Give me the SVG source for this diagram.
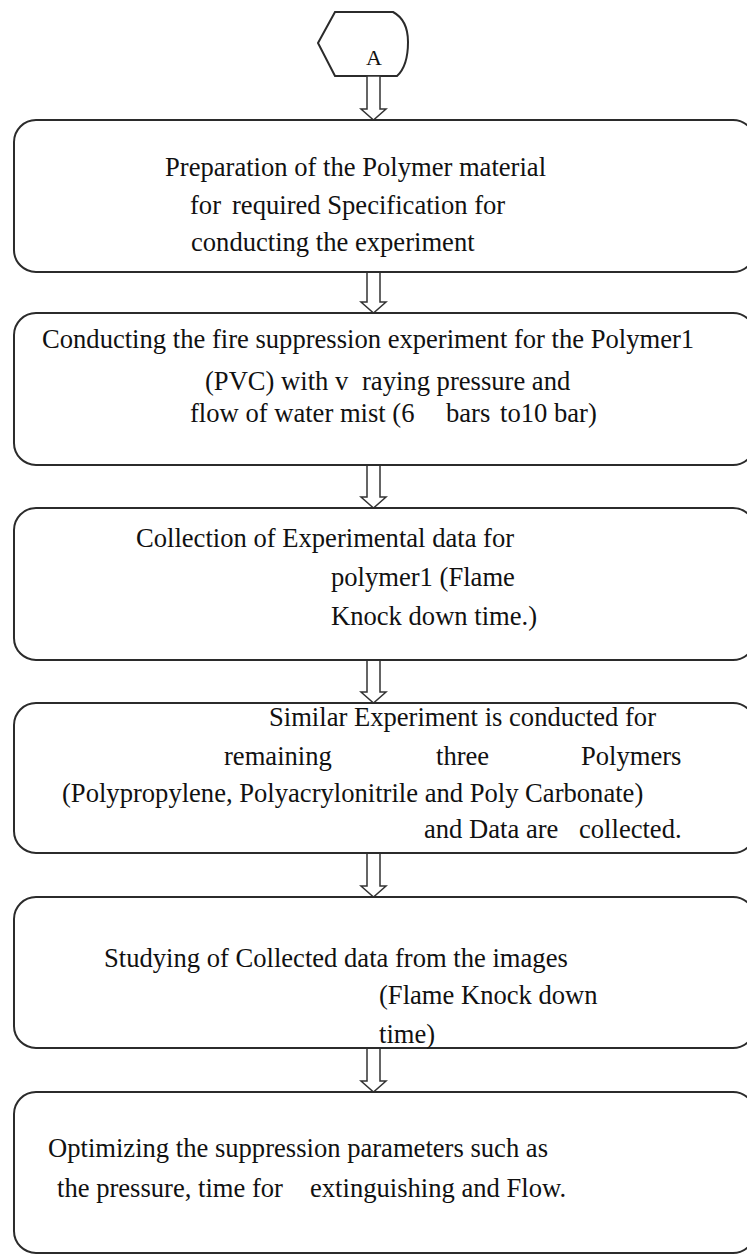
<svg xmlns="http://www.w3.org/2000/svg" width="747" height="1256" viewBox="0 0 747 1256">
<style>
.box{fill:#fff;stroke:#2b2b2b;stroke-width:2}
.arr{fill:#fff;stroke:#333;stroke-width:1.5;stroke-linejoin:miter}
.t{font-family:"Liberation Serif","Times New Roman",serif;font-size:26.6px;fill:#111}
.ta{font-family:"Liberation Serif","Times New Roman",serif;font-size:22px;fill:#111}
</style>
<rect width="747" height="1256" fill="#fff"/>
<g id="start">
<path class="box" d="M318,43 L335,12 L393,12 Q408,20 408,42 Q408,66 397,76 L335,76 Z"/>
<text class="ta" x="366" y="65">A</text>
</g>
<g id="connectors">
<path class="arr" d="M367,76 L380,76 L380,109 L386,109 L373.5,120 L361,109 L367,109 Z"/>
<path class="arr" d="M367,272 L380,272 L380,302 L386,302 L373.5,313 L361,302 L367,302 Z"/>
<path class="arr" d="M367,465 L380,465 L380,497 L386,497 L373.5,508 L361,497 L367,497 Z"/>
<path class="arr" d="M367,660 L380,660 L380,692 L386,692 L373.5,703 L361,692 L367,692 Z"/>
<path class="arr" d="M367,853 L380,853 L380,886 L386,886 L373.5,897 L361,886 L367,886 Z"/>
<path class="arr" d="M367,1048 L380,1048 L380,1081 L386,1081 L373.5,1092 L361,1081 L367,1081 Z"/>
</g>
<g id="step1">
<rect class="box" x="14" y="120" width="741" height="152" rx="22"/>
<text class="t" x="165" y="176">Preparation of the Polymer material</text>
<text class="t" y="214"><tspan x="190">for</tspan><tspan x="232">required Specification for</tspan></text>
<text class="t" x="191" y="251">conducting the experiment</text>
</g>
<g id="step2">
<rect class="box" x="14" y="313" width="741" height="152" rx="22"/>
<text class="t" x="42" y="348">Conducting the fire suppression experiment for the Polymer1</text>
<text class="t" y="390"><tspan x="205">(PVC) with v</tspan><tspan x="362">raying pressure and</tspan></text>
<text class="t" y="422"><tspan x="190">flow of water mist (6</tspan><tspan x="446">bars</tspan><tspan x="500">to10 bar)</tspan></text>
</g>
<g id="step3">
<rect class="box" x="14" y="508" width="741" height="152" rx="22"/>
<text class="t" x="136" y="547">Collection of Experimental data for</text>
<text class="t" x="331" y="586">polymer1 (Flame</text>
<text class="t" x="331" y="625">Knock down time.)</text>
</g>
<g id="step4">
<rect class="box" x="14" y="703" width="741" height="150" rx="22"/>
<text class="t" x="269" y="726">Similar Experiment is conducted for</text>
<text class="t" y="765"><tspan x="224">remaining</tspan><tspan x="436">three</tspan><tspan x="581">Polymers</tspan></text>
<text class="t" x="62" y="802">(Polypropylene, Polyacrylonitrile and Poly Carbonate)</text>
<text class="t" y="838"><tspan x="424">and Data are</tspan><tspan x="579">collected.</tspan></text>
</g>
<g id="step5">
<rect class="box" x="14" y="897" width="741" height="151" rx="22"/>
<text class="t" x="104" y="967">Studying of Collected data from the images</text>
<text class="t" x="379" y="1004">(Flame Knock down</text>
<text class="t" x="379" y="1043">time)</text>
</g>
<g id="step6">
<rect class="box" x="14" y="1092" width="741" height="161" rx="22"/>
<text class="t" x="48" y="1157">Optimizing the suppression parameters such as</text>
<text class="t" y="1197"><tspan x="57">the pressure, time for</tspan><tspan x="310">extinguishing and Flow.</tspan></text>
</g>
</svg>
